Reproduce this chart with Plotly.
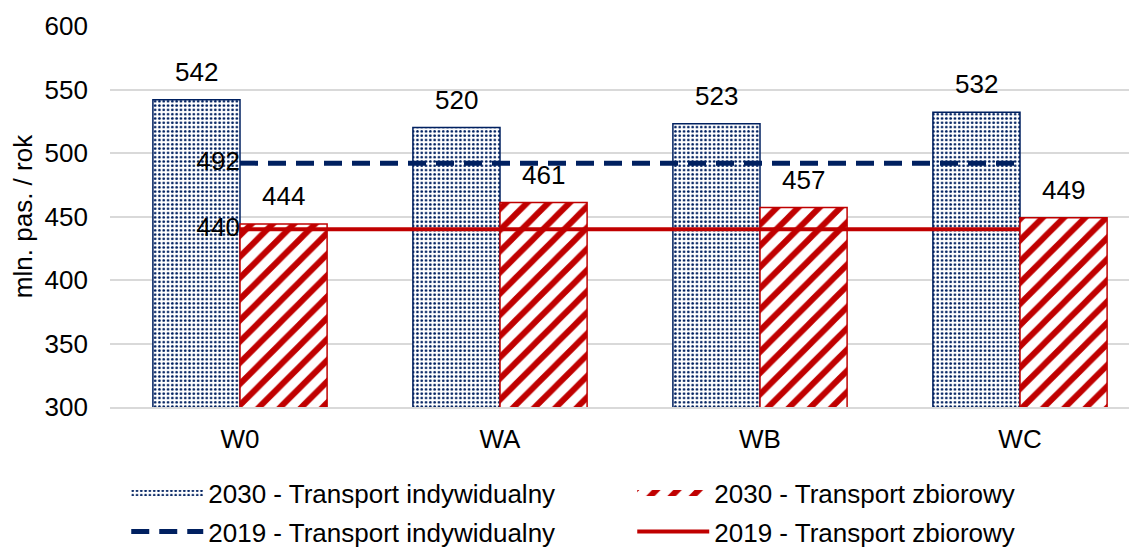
import plotly.graph_objects as go

categories = ["W0", "WA", "WB", "WC"]
ind_2030 = [542, 520, 523, 532]
zb_2030 = [444, 461, 457, 449]
ind_2019 = [492, 492, 492, 492]
zb_2019 = [440, 440, 440, 440]
y_ticks = [300, 350, 400, 450, 500, 550, 600]

BLUE = "#002060"
RED = "#C00000"
FONT = "Liberation Sans, Arial, sans-serif"
FS = 26

pat_ind = dict(shape=".", fgcolor=BLUE, bgcolor="white", size=4.3, solidity=0.3, fgopacity=1)
pat_zb = dict(shape="/", fgcolor=RED, bgcolor="white", size=15, solidity=0.4, fgopacity=1)

fig = go.Figure()
fig.add_trace(go.Bar(
    x=categories, y=ind_2030, name="2030 - Transport indywidualny", showlegend=False,
    marker=dict(color="white", line=dict(color=BLUE, width=1.5), pattern=pat_ind),
))
fig.add_trace(go.Bar(
    x=categories, y=zb_2030, name="2030 - Transport zbiorowy", showlegend=False,
    marker=dict(color="white", line=dict(color=RED, width=1.5), pattern=pat_zb),
))
fig.add_trace(go.Scatter(
    x=categories, y=ind_2019, name="2019 - Transport indywidualny", legend="legend2",
    mode="lines+text", line=dict(color=BLUE, width=5, dash="18px,10px"),
    text=[str(ind_2019[0])] + [""] * (len(ind_2019) - 1),
    textposition="middle left", textfont=dict(size=FS, color="black"), cliponaxis=False,
))
fig.add_trace(go.Scatter(
    x=categories, y=zb_2019, name="2019 - Transport zbiorowy", legend="legend2",
    mode="lines+text", line=dict(color=RED, width=4),
    text=[str(zb_2019[0])] + [""] * (len(zb_2019) - 1),
    textposition="middle left", textfont=dict(size=FS, color="black"), cliponaxis=False,
))
# legend entries for the patterned bars (wide patterned swatches)
fig.add_trace(go.Scatter(
    x=[None], y=[None], name="2030 - Transport indywidualny", legend="legend",
    mode="none", fill="toself", fillcolor="white", fillpattern=pat_ind,
))
fig.add_trace(go.Scatter(
    x=[None], y=[None], name="2030 - Transport zbiorowy", legend="legend",
    mode="none", fill="toself", fillcolor="white", fillpattern=pat_zb,
))

annotations = []
for c, v in zip(categories, ind_2030):
    annotations.append(dict(x=c, y=v, text=str(v), showarrow=False, xshift=-43.5,
                            yanchor="bottom", yshift=11, font=dict(size=FS, color="black")))
for c, v in zip(categories, zb_2030):
    annotations.append(dict(x=c, y=v, text=str(v), showarrow=False, xshift=43.5,
                            yanchor="bottom", yshift=11, font=dict(size=FS, color="black")))

leg_common = dict(orientation="h", xref="container", yref="container",
                  xanchor="left", yanchor="middle",
                  entrywidth=419, entrywidthmode="pixels", itemwidth=72,
                  font=dict(size=FS), traceorder="normal", bgcolor="rgba(0,0,0,0)")

fig.update_layout(
    width=1137, height=547,
    margin=dict(l=102, r=8, t=18, b=148, autoexpand=False),
    paper_bgcolor="white", plot_bgcolor="white",
    font=dict(family=FONT, size=FS, color="black"),
    barmode="group", bargap=0.33, bargroupgap=0,
    showlegend=True,
    annotations=annotations,
    legend=dict(x=0.104, y=0.1133, **leg_common),
    legend2=dict(x=0.104, y=0.043, **leg_common),
    xaxis=dict(range=[-0.5, 3.45], showgrid=False, showline=True, linecolor="#D9D9D9",
               linewidth=1.5, ticks="", tickfont=dict(size=FS), ticklabelstandoff=8,
               automargin=False),
    yaxis=dict(range=[300, 600], tickvals=y_ticks, showgrid=True, gridcolor="#D9D9D9",
               gridwidth=1.5, zeroline=False, showline=False, ticks="",
               tickfont=dict(size=FS), ticklabelstandoff=21, automargin=False,
               title=dict(text="mln. pas. / rok", font=dict(size=FS), standoff=5)),
)

fig.write_html("out.html")
